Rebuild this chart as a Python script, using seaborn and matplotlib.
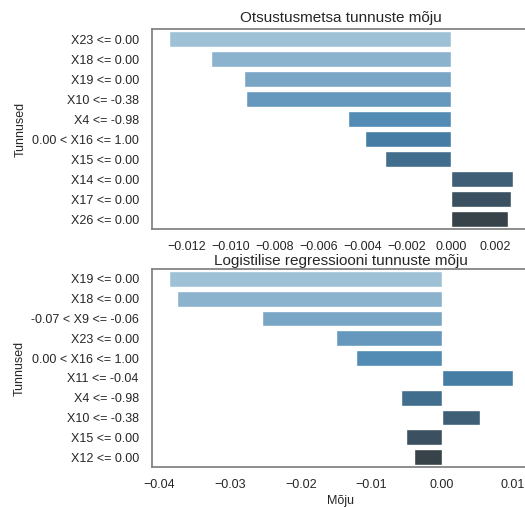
import matplotlib
matplotlib.use("Agg")
import matplotlib.pyplot as plt
import seaborn as sns
import pandas as pd

# Decision tree (random forest) feature effects
rf_features = ["X23 <= 0.00", "X18 <= 0.00", "X19 <= 0.00", "X10 <= -0.38", "X4 <= -0.98",
               "0.00 < X16 <= 1.00", "X15 <= 0.00", "X14 <= 0.00", "X17 <= 0.00", "X26 <= 0.00"]
rf_values = [-0.0128, -0.0109, -0.0094, -0.0093, -0.0047, -0.0039, -0.0030, 0.0028, 0.0027, 0.0026]

# Logistic regression feature effects
lr_features = ["X19 <= 0.00", "X18 <= 0.00", "-0.07 < X9 <= -0.06", "X23 <= 0.00", "0.00 < X16 <= 1.00",
               "X11 <= -0.04", "X4 <= -0.98", "X10 <= -0.38", "X15 <= 0.00", "X12 <= 0.00"]
lr_values = [-0.0386, -0.0375, -0.0255, -0.0150, -0.0122, 0.0100, -0.0058, 0.0053, -0.0051, -0.0040]

sns.set_theme(style="white")
plt.rcParams["font.family"] = ["Liberation Sans", "DejaVu Sans"]

fig = plt.figure(figsize=(5.25, 5.07), dpi=100)
W, H = 525, 507
def pos(l, t, r, b):
    return [l / W, 1 - b / H, (r - l) / W, (b - t) / H]

ax1 = fig.add_axes(pos(152, 29, 530, 229))
ax2 = fig.add_axes(pos(152, 269, 530, 467))

df1 = pd.DataFrame({"Tunnused": rf_features, "Mõju": rf_values})
df2 = pd.DataFrame({"Tunnused": lr_features, "Mõju": lr_values})

sns.barplot(data=df1, x="Mõju", y="Tunnused", hue="Tunnused", palette="Blues_d",
            legend=False, ax=ax1)
sns.barplot(data=df2, x="Mõju", y="Tunnused", hue="Tunnused", palette="Blues_d",
            legend=False, ax=ax2)

ax1.set_title("Otsustusmetsa tunnuste mõju", fontsize=11, pad=5)
ax2.set_title("Logistilise regressiooni tunnuste mõju", fontsize=11, pad=3)
ax1.set_xlabel("")
ax2.set_xlabel("Mõju", fontsize=9, labelpad=3)
for ax in (ax1, ax2):
    ax.set_ylabel("Tunnused", fontsize=9)
    ax.tick_params(labelsize=9)
    ax.tick_params(axis="x", pad=2.5)
    for s in ax.spines.values():
        s.set_color("#808080")

fig.savefig("out.png", dpi=100)
